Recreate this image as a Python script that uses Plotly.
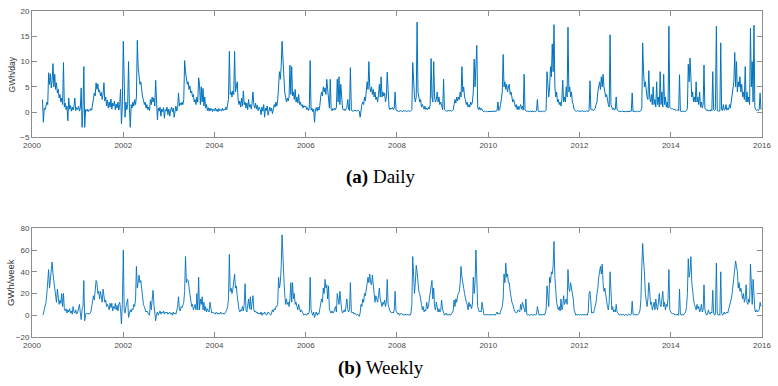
import datetime as dt
import plotly.graph_objects as go
from plotly.subplots import make_subplots

# ---------------- data (one value per week) ----------------
years = list(range(2000, 2016))
first_week_2000 = "2000-03-25"

# daily energy (GWh/day), sampled once a week
daily_2000 = [2.5,-2,0.8,0.5,1.2,2.0,1.5,7.8,5.5,7.6,4.8,6.2,9.6,5.0,7.5,4.5,5.8,3.8,4.5,2.8,
              3.5,2.0,2.8,1.5,9.8,1.0,1.8,0.5,1.2,-1.7,2.8,0.6,1.3,0.2,1.0,0.4,1.1,2.8,0.3,0.9]
daily_2001 = [0.5,1.2,0.2,0.8,4.8,-3,0.6,9.0,-3,0.5,0.2,0.6,0.1,0.5,0.3,0.7,0.4,1.5,2.5,3.8,
              3.2,5.8,4.5,5.6,4.0,4.4,3.2,3.9,2.5,3.6,5.8,2.2,3.0,1.2,2.4,0.8,2.0,1.0,2.6,0.6,
              1.8,1.2,2.2,0.5,1.6,0.8,2.0,0.4,1.5,4.5,-2.3,1.0]
daily_2002 = [14,1.0,-1,2.0,0.5,1.5,10.0,0.8,-3,1.5,0.8,2.0,1.2,2.5,1.5,3.0,14.2,9.0,6.5,5.5,
              6.0,4.0,3.0,2.5,1.5,2.0,0.8,1.5,0.5,1.0,0.3,2.5,1.5,3.0,2.0,2.8,1.2,6.3,0.5,-1.5,
              0.8,0.2,1.0,-0.8,0.6,0.1,0.9,-1.2,0.5,0.2,1.0,-0.5]
daily_2003 = [0.6,-0.8,0.4,1.0,0.1,0.8,-1.0,0.5,1.2,0.2,0.9,3.8,1.2,1.8,1.4,2.0,1.5,2.5,10.2,8.0,
              7.0,5.5,6.0,4.5,5.2,3.8,4.2,3.0,3.5,2.0,2.5,1.5,3.0,2.0,6.8,5.5,1.5,5.0,2.0,4.7,
              1.2,3.0,0.8,1.5,0.3,0.9,0.2,0.8,0.3,0.7,0.1,0.6]
daily_2004 = [0.3,0.8,0.2,0.6,0.1,0.7,0.3,0.5,0.2,0.8,0.3,0.6,0.4,1.0,0.5,1.5,2.5,12.0,3.5,4.0,
              3.0,4.2,3.5,12.0,4.0,5.0,6.0,2.5,1.5,2.2,1.0,2.8,1.2,4.2,1.5,2.0,0.8,1.8,0.5,2.5,
              1.0,1.5,0.6,1.8,4.0,1.5,0.8,1.8,0.6,1.4,0.3,1.0]
daily_2005 = [0.5,-0.5,1.0,0.2,1.5,-1.0,0.8,0.3,1.2,-0.6,0.6,1.0,0.2,0.8,-0.3,1.0,1.5,1.0,2.0,1.2,
              2.5,5.0,8.0,6.5,9.0,14.0,10.0,6.0,4.0,3.0,2.0,2.8,2.2,3.0,9.3,3.5,9.0,3.2,4.0,2.5,
              4.5,2.0,3.0,1.8,3.5,1.5,2.0,1.2,1.5,0.8,1.3,1.0]
daily_2006 = [1.2,0.5,0.9,0.3,0.8,10.2,0.4,0.8,0.1,0.6,-2.0,0.5,0.9,0.2,1.0,0.4,1.2,3.0,4.0,3.2,
              5.0,4.0,4.8,3.5,6.5,4.5,3.0,0.8,6.5,0.6,0.3,0.7,0.4,0.8,0.5,1.0,6.5,2.0,7.0,1.5,
              5.5,3.0,0.8,0.4,0.6,0.3,0.8,1.0,2.5,0.5,0.3,8.8]
daily_2007 = [0.4,0.2,0.3,0.2,0.4,0.3,0.2,0.4,0.3,0.2,-1.0,0.5,1.5,2.0,1.5,3.0,2.2,4.0,6.0,4.5,
              10.0,5.0,4.0,5.0,3.5,4.5,3.0,4.0,2.5,3.0,2.0,3.5,5.5,3.0,7.0,3.0,4.0,3.2,3.8,2.0,
              3.0,7.9,2.0,1.0,0.5,0.8,0.6,0.9,0.5,0.8,4.0,0.5]
daily_2008 = [0.2,0.3,0.1,0.2,0.3,0.2,0.1,0.3,0.2,0.2,0.3,0.1,0.2,0.3,0.2,0.1,0.3,0.5,9.8,4.0,
              3.0,2.0,3.0,17.8,4.0,3.0,2.0,2.5,1.0,1.5,1.0,0.6,1.2,0.5,0.8,0.5,1.0,0.6,1.5,10.6,
              3.0,2.0,10.0,3.0,2.0,2.5,4.0,2.0,3.0,1.5,2.0,1.0]
daily_2009 = [0.5,6.5,0.5,0.3,0.2,0.3,0.2,0.4,0.2,0.3,0.2,0.3,0.4,1.5,2.5,1.8,3.0,2.2,3.0,2.5,
              4.0,3.0,9.0,4.0,5.0,3.0,2.5,1.5,2.0,1.0,1.5,1.0,2.0,1.5,2.0,4.0,10.5,5.0,8.0,13.2,
              1.0,0.5,1.0,0.4,0.8,0.3,0.2,0.1,0.2,0.1,0.2,0.1]
daily_2010 = [0.1,0.2,0.1,0.1,0.2,0.1,0.2,0.1,0.1,0.2,0.3,2.0,0.3,0.5,1.5,2.5,4.0,11.4,5.0,6.0,
              4.5,5.5,4.0,5.0,5.5,3.5,4.0,3.0,2.0,2.5,1.5,1.0,1.5,0.5,1.2,0.5,1.0,1.5,0.6,1.2,
              0.4,7.5,0.5,0.2,0.1,0.2,0.1,0.1,0.2,0.1,0.1,0.2]
daily_2011 = [0.1,0.2,0.1,0.3,2.5,0.2,0.1,0.2,0.1,0.2,0.1,0.2,0.1,0.2,0.5,8.0,4.0,3.0,5.0,9.0,
              7.0,13.5,8.0,17.3,5.0,3.0,4.0,2.0,2.5,1.5,2.0,1.2,2.5,6.3,2.0,3.0,2.0,5.0,3.0,16.8,
              4.0,5.0,3.0,4.0,2.0,1.5,0.5,0.3,0.2,0.2,0.3,0.2]
daily_2012 = [0.2,0.1,0.2,0.3,0.2,0.1,0.2,0.1,0.3,0.2,0.1,0.4,6.2,0.6,0.4,0.6,0.3,0.5,0.8,1.5,
              2.0,4.0,5.0,6.0,4.5,7.0,5.0,7.5,5.0,4.0,3.0,3.5,2.0,1.5,1.0,15.3,1.5,1.0,0.5,0.8,
              0.4,0.6,3.0,0.5,0.2,0.1,0.2,0.1,0.1,0.2,0.1,0.1]
daily_2013 = [0.1,0.2,0.1,0.1,0.2,0.1,0.1,0.2,3.8,0.1,0.2,0.1,0.1,0.2,0.1,0.2,0.1,0.2,0.3,0.8,
              13.7,8.0,5.0,6.0,4.0,3.0,2.5,8.2,3.0,2.0,3.5,1.5,5.0,1.5,2.5,1.0,6.0,1.5,3.0,1.0,
              8.0,1.5,4.0,1.0,7.5,1.5,3.0,1.0,2.0,0.8,17.0,1.0]
daily_2014 = [0.8,0.6,0.7,0.5,0.6,0.4,0.5,0.3,0.5,0.3,7.4,0.2,0.1,0.2,0.1,0.2,0.1,0.2,0.3,0.8,
              9.5,6.0,10.7,7.0,3.0,4.0,2.0,3.0,2.0,6.0,2.0,3.0,1.5,4.0,1.0,2.0,0.8,1.5,9.3,0.8,
              0.5,0.3,0.5,0.2,0.4,0.2,0.5,0.3,8.0,0.5,0.3,0.5]
daily_2015 = [17.0,0.3,0.2,0.3,0.2,13.7,0.5,0.3,1.5,0.4,0.6,1.5,0.4,0.8,0.5,1.5,0.8,2.0,3.0,4.5,
              6.0,11.8,5.0,10.0,4.0,6.0,5.0,7.0,4.0,5.5,3.0,4.0,2.5,9.0,2.0,4.0,2.0,3.0,1.5,16.6,
              5.0,10.0,2.0,17.2,1.0,0.5,0.3,0.5,0.3,0.6,3.8,0.5]

# weekly energy (GWh/week)
weekly_2000 = [0,1,5,8,12,20,30,42,25,35,45,49,38,32,28,22,12,24,15,10,
               14,11,20,8,20,6,4,6,2,5,3,6,2,4,1,8,3,2,5,1]
weekly_2001 = [3,6,10,2,-4,5,8,32,-5,1,2,1,2,1,2,3,8,15,18,14,
               25,32,30,20,22,15,22,17,12,24,15,12,14,8,10,6,5,11,7,11,
               4,8,6,11,5,9,4,10,12,6,-8,10]
weekly_2002 = [60,5,2,8,12,15,-2,2,5,3,6,5,10,8,15,45,25,30,37,30,
               32,25,15,10,8,5,3,4,2,1,0,13,5,15,23,10,3,-5,1,3,
               0,2,4,1,3,2,4,1,3,2,3,1]
weekly_2003 = [2,3,1,2,0,3,1,2,1,4,8,17,5,4,8,7,10,12,22,54,
               30,33,32,25,18,12,8,10,5,7,10,5,20,5,35,5,15,10,17,5,
               12,4,8,3,6,4,3,12,4,2,3,2]
weekly_2004 = [2,1,3,2,1,2,1,3,2,1,2,1,2,3,5,8,15,56,22,25,
               20,24,30,38,25,27,18,10,5,3,5,4,8,4,10,29,5,3,8,15,
               6,17,5,10,18,5,3,4,2,3,1,2]
weekly_2005 = [1,3,0,2,1,3,2,0,1,3,2,1,0,2,5,3,6,5,8,8,
               10,35,25,30,45,74,45,35,20,10,15,10,12,8,15,30,12,30,15,20,
               10,12,8,5,10,6,3,5,3,1,0,1]
weekly_2006 = [1,0,2,1,3,35,5,2,0,3,-2,1,3,0,2,1,5,8,15,12,
               25,20,33,25,28,15,27,5,3,2,4,2,3,5,8,3,20,15,10,22,
               10,5,2,3,5,3,8,15,5,3,5,30]
weekly_2007 = [3,2,3,1,2,1,0,1,0,-1,2,10,8,15,12,20,18,25,30,35,
               30,38,30,28,37,25,20,12,18,15,12,18,25,15,12,8,12,10,14,8,
               12,33,10,5,4,3,2,3,2,5,22,4]
weekly_2008 = [2,1,2,0,1,2,1,0,1,0,1,0,1,0,1,0,2,10,54,30,
               20,30,46,40,30,22,20,12,10,5,8,3,5,4,12,6,8,15,20,28,
               32,15,25,8,5,12,5,3,6,3,4,14]
weekly_2009 = [5,2,0,1,2,0,1,0,1,0,1,2,4,14,8,15,12,18,20,22,
               30,45,35,28,25,20,15,12,10,5,12,8,10,6,10,35,20,30,60,20,
               8,5,3,4,3,12,3,1,0,1,0,1]
weekly_2010 = [0,1,0,1,0,1,0,1,0,1,3,1,2,1,3,5,8,15,38,30,
               48,35,38,30,30,22,15,12,10,6,4,3,2,3,5,4,3,10,5,12,
               8,6,3,15,1,0,1,0,0,1,0,0]
weekly_2011 = [0,1,0,1,8,1,0,1,0,1,0,1,0,2,5,27,15,8,35,30,
               40,38,45,68,35,20,12,8,5,8,4,15,5,8,18,10,12,15,10,42,
               25,22,30,25,20,15,5,1,0,1,0,1]
weekly_2012 = [0,1,0,0,1,0,1,0,1,0,3,20,22,5,2,3,2,5,8,12,
               20,25,35,40,45,38,47,30,22,25,18,12,8,5,12,40,10,5,8,3,
               5,3,10,3,2,1,0,1,0,0,1,0]
weekly_2013 = [0,1,0,0,1,0,0,1,13,1,0,1,0,1,0,1,2,5,15,45,
               66,50,40,20,12,8,15,30,22,10,12,5,8,12,5,15,8,5,12,20,
               10,8,15,22,8,12,5,10,8,15,42,5]
weekly_2014 = [3,2,1,2,1,0,1,0,1,0,24,1,0,1,0,1,2,3,8,20,
               52,35,40,54,30,20,15,10,8,5,10,6,8,3,5,10,3,5,28,5,
               2,0,1,5,2,1,3,2,23,2,0,1]
weekly_2015 = [48,2,0,1,0,40,2,0,1,3,1,2,3,2,5,8,10,15,20,28,
               35,42,50,45,40,25,30,22,25,20,15,20,12,15,28,12,10,15,12,47,
               20,10,33,15,5,3,5,3,4,5,12,8]

x_tick_years = [2000, 2002, 2004, 2006, 2008, 2010, 2012, 2014, 2016]
daily_ticks = [-5, 0, 5, 10, 15, 20]
weekly_ticks = [-20, 0, 20, 40, 60, 80]
captions = ["<b>(a)</b> Daily", "<b>(b)</b> Weekly"]
y_titles = ["GWh/day", "GWh/week"]


def build(prefix):
    xs, ys = [], []
    for y in years:
        vals = globals()[f"{prefix}_{y}"]
        start = dt.date.fromisoformat(first_week_2000) if y == 2000 else dt.date(y, 1, 1)
        for k, v in enumerate(vals):
            xs.append(start + dt.timedelta(days=7 * k))
            ys.append(v)
    return xs, ys


dx, dy = build("daily")
wx, wy = build("weekly")

# ---------------- figure ----------------
LINE = "#0072BD"
AX = "#8c8c8c"
TICKF = dict(family="Liberation Sans, Arial, sans-serif", size=8, color="#4a4a4a")

fig = make_subplots(rows=2, cols=1)
fig.add_trace(go.Scatter(x=dx, y=dy, mode="lines", line=dict(color=LINE, width=1.0),
                         showlegend=False, hoverinfo="skip"), row=1, col=1)
fig.add_trace(go.Scatter(x=wx, y=wy, mode="lines", line=dict(color=LINE, width=0.9),
                         showlegend=False, hoverinfo="skip"), row=2, col=1)

xcommon = dict(type="date", range=["2000-01-01", "2016-01-01 06:00"],
               tickvals=[f"{y}-01-01" for y in x_tick_years],
               ticktext=[str(y) for y in x_tick_years],
               ticklabeloverflow="allow",
               showgrid=False, zeroline=False, showline=True, linecolor=AX, linewidth=1,
               mirror="ticks", ticks="inside", ticklen=5, tickcolor=AX, tickfont=TICKF)
ycommon = dict(showgrid=False, zeroline=False, showline=True, linecolor=AX, linewidth=1,
               mirror="ticks", ticks="inside", ticklen=5, tickcolor=AX, tickfont=TICKF)

H_TOTAL = 330.0  # plot-area height in px (7 .. 337)
fig.update_layout(
    width=778, height=386,
    margin=dict(l=32, r=7, t=7, b=49),
    paper_bgcolor="white", plot_bgcolor="white",
    xaxis=dict(**xcommon, domain=[0, 1]),
    xaxis2=dict(**xcommon, domain=[0, 1]),
    yaxis=dict(**ycommon, range=[-5, 20], tickvals=daily_ticks,
               domain=[(337 - 135) / H_TOTAL, 1.0]),
    yaxis2=dict(**ycommon, range=[-20, 80], tickvals=weekly_ticks,
                domain=[0.0, (337 - 227) / H_TOTAL]),
)

fig.add_annotation(text=y_titles[0], xref="paper", yref="paper",
                   x=(12 - 32) / 739.0, y=(337 - 71) / H_TOTAL, textangle=-90,
                   showarrow=False, xanchor="center", yanchor="middle",
                   font=dict(family="Liberation Sans, Arial, sans-serif", size=8.5, color="#333"))
fig.add_annotation(text=y_titles[1], xref="paper", yref="paper",
                   x=(10 - 32) / 739.0, y=(337 - 282) / H_TOTAL, textangle=-90,
                   showarrow=False, xanchor="center", yanchor="middle",
                   font=dict(family="Liberation Sans, Arial, sans-serif", size=9.5, color="#333"))

for cap, py in zip(captions, [175, 368]):
    fig.add_annotation(text=cap, xref="paper", yref="paper",
                       x=(385 - 32) / 739.0, y=(337 - py) / H_TOTAL,
                       showarrow=False, xanchor="center", yanchor="middle",
                       font=dict(family="Liberation Serif, Times New Roman, serif", size=19, color="black"))

fig.write_html("out.html", config={"displayModeBar": False},
               post_script="document.body.style.margin='0';document.body.style.overflow='hidden';")
